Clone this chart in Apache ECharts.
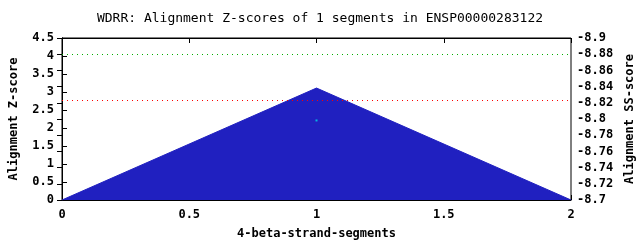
<!DOCTYPE html>
<html><head><meta charset="utf-8">
<script src="https://cdn.jsdelivr.net/npm/echarts@6/dist/echarts.min.js"></script>
<style>html,body{margin:0;padding:0;background:#fff}#c{width:640px;height:240px}</style>
</head><body><div id="c"></div>
<script>
const segX = [0, 1, 2];
const zScores = [0, 3.11, 0];
const pointX = [1];
const pointY = [2.21];
const greenLevelSS = -8.878;
const redLevelZ = 2.764;
const titleText = "WDRR: Alignment Z-scores of 1 segments in ENSP00000283122";

const font = "DejaVu Sans Mono";
const chart = echarts.init(document.getElementById('c'), null, {renderer: 'canvas'});
const fmt = v => String(parseFloat(Number(v).toFixed(2)));
const lbl = {fontFamily: font, fontSize: 12, fontWeight: 'bold', color: '#000'};
chart.setOption({
  animation: false,
  backgroundColor: '#fff',
  title: {text: titleText, left: 'center', top: 7,
    textStyle: {fontFamily: font, fontSize: 13, fontWeight: 'normal', color: '#000'}},
  grid: {left: 62, right: 69, top: 38, bottom: 40, show: true, borderColor: '#000', borderWidth: 1,
         containLabel: false, outerBoundsMode: 'none'},
  xAxis: [
    {type: 'value', min: 0, max: 2, interval: 0.5, position: 'bottom',
     name: '4-beta-strand-segments', nameLocation: 'middle', nameGap: 28,
     nameTextStyle: lbl,
     axisLine: {show: true, lineStyle: {color: '#000'}},
     axisTick: {show: true, inside: true, length: 5, lineStyle: {color: '#000'}},
     axisLabel: Object.assign({margin: 9, formatter: fmt}, lbl),
     splitLine: {show: false}},
    {type: 'value', min: 0, max: 2, interval: 0.5, position: 'top',
     axisLine: {show: true, lineStyle: {color: '#000'}},
     axisTick: {show: true, inside: true, length: 5, lineStyle: {color: '#000'}},
     axisLabel: {show: false}, splitLine: {show: false}}
  ],
  yAxis: [
    {type: 'value', min: 0, max: 4.5, interval: 0.5, position: 'left',
     name: 'Alignment Z-score', nameLocation: 'middle', nameGap: 42, nameRotate: 90,
     nameTextStyle: lbl,
     axisLine: {show: true, lineStyle: {color: '#000'}},
     axisTick: {show: true, inside: true, length: 5, lineStyle: {color: '#000'}},
     axisLabel: Object.assign({margin: 8, formatter: fmt}, lbl),
     splitLine: {show: false}},
    {type: 'value', min: -8.9, max: -8.7, interval: 0.02, inverse: true, position: 'right',
     name: 'Alignment SS-score', nameLocation: 'middle', nameGap: 47, nameRotate: 90,
     nameTextStyle: lbl,
     axisLine: {show: true, lineStyle: {color: '#000'}},
     axisTick: {show: true, inside: true, length: 5, lineStyle: {color: '#000'}},
     axisLabel: Object.assign({margin: 6, formatter: fmt}, lbl),
     splitLine: {show: false}}
  ],
  series: [
    {type: 'line', xAxisIndex: 0, yAxisIndex: 0, symbol: 'none',
     data: segX.map((x, i) => [x, zScores[i]]),
     lineStyle: {color: '#2020c0', width: 1}, areaStyle: {color: '#2020c0', opacity: 1},
     markLine: {silent: true, symbol: 'none', label: {show: false},
       lineStyle: {color: '#ff0000', type: [1, 4], width: 1, opacity: 1},
       data: [{yAxis: redLevelZ}]}},
    {type: 'line', xAxisIndex: 0, yAxisIndex: 1, symbol: 'none', data: [],
     markLine: {silent: true, symbol: 'none', label: {show: false},
       lineStyle: {color: '#00b000', type: [1, 4], width: 1, opacity: 1},
       data: [{yAxis: greenLevelSS}]}},
    {type: 'scatter', xAxisIndex: 0, yAxisIndex: 0, symbol: 'rect', symbolSize: 2, z: 5,
     itemStyle: {color: '#00d8e8'},
     data: pointX.map((x, i) => [x, pointY[i]])}
  ]
});
</script></body></html>
